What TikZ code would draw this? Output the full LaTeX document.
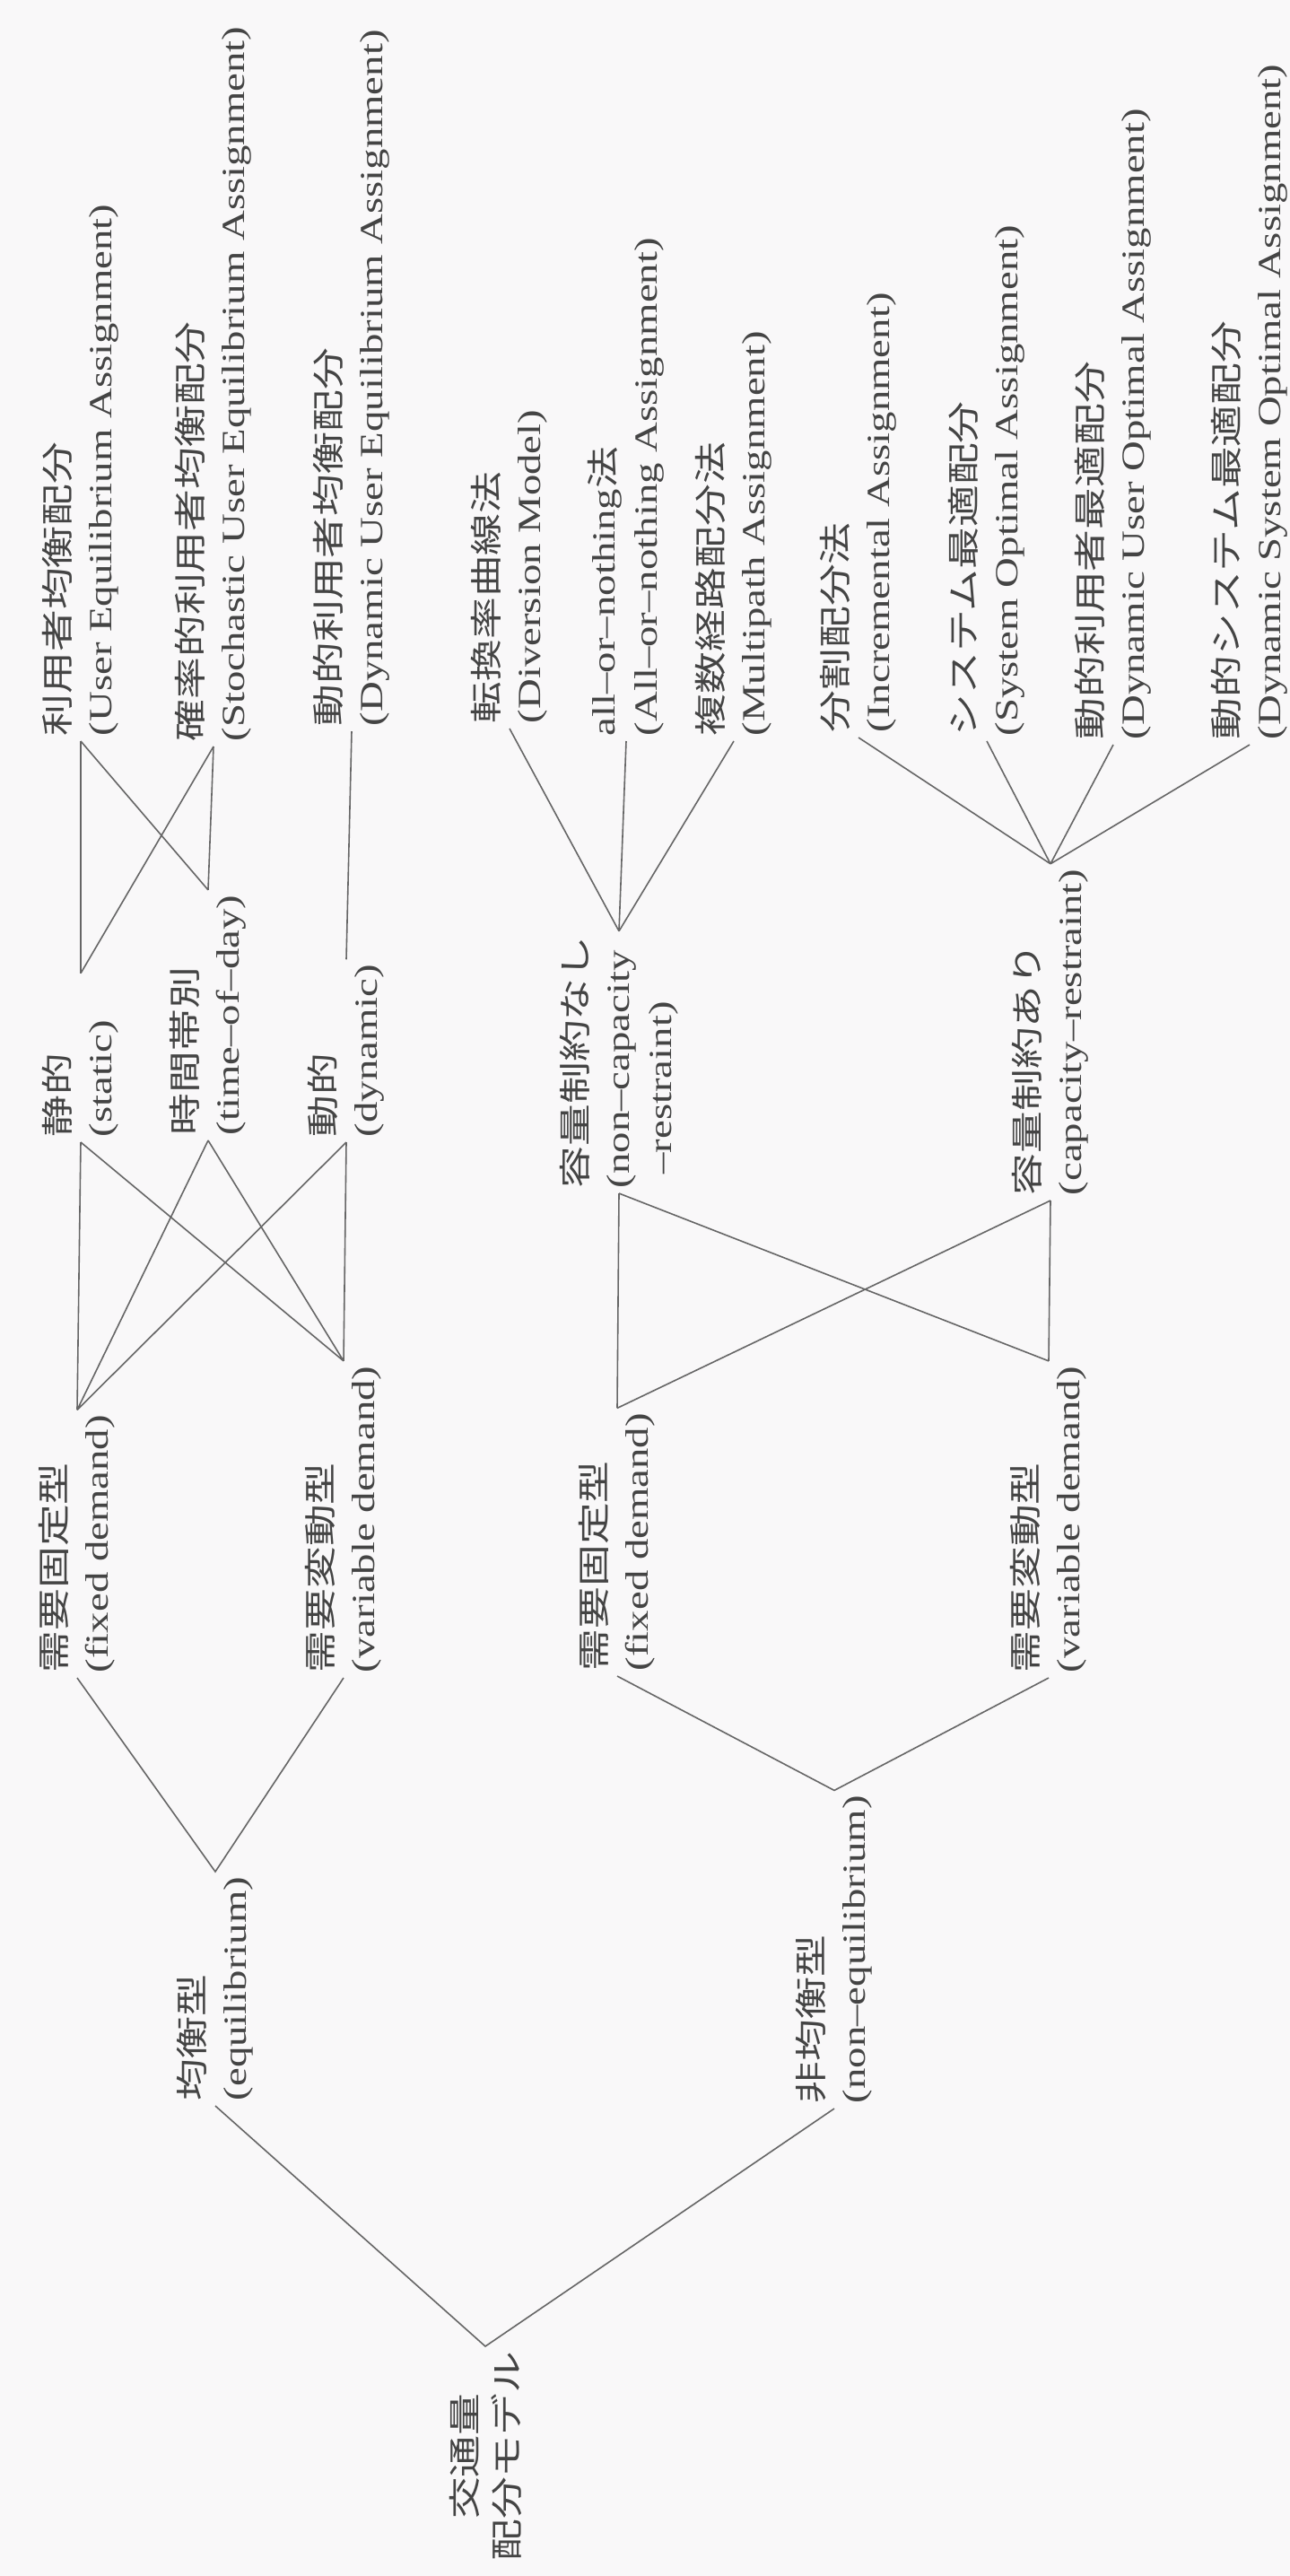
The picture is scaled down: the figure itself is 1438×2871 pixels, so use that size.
\documentclass[tikz,border=0pt]{standalone}
\usepackage{fontspec}
\setmainfont{Liberation Serif}
\newfontfamily\jpfont{Noto Sans CJK JP}
\newcommand{\jp}[1]{{\jpfont #1}}
\definecolor{paper}{RGB}{249,248,249}
\definecolor{ink}{RGB}{68,68,68}

\begin{document}
\begin{tikzpicture}[
  x=0.5pt, y=-0.5pt,
  lbl/.style={rotate=90, xscale=1.3, anchor=west, align=left, inner sep=2pt, text=ink, font=\fontsize{18}{23.5}\selectfont},
  link/.style={draw=black!60, line width=0.8pt}
]
\fill[paper] (0,0) rectangle (1438,2871);
\useasboundingbox (0,0) rectangle (1438,2871);
% root and first split
\node[lbl, anchor=east, align=center] (root) at (541,2615) {\jp{交通量}\\\jp{配分モデル}};
\node[lbl] (equil) at (240,2347) {\jp{均衡型}\\(equilibrium)};
\node[lbl] (nonequil) at (930,2350) {\jp{非均衡型}\\(non--equilibrium)};
% demand
\node[lbl] (fixA) at (86,1870) {\jp{需要固定型}\\(fixed demand)};
\node[lbl] (varA) at (383,1870) {\jp{需要変動型}\\(variable demand)};
\node[lbl] (fixB) at (688,1868) {\jp{需要固定型}\\(fixed demand)};
\node[lbl] (varB) at (1169,1870) {\jp{需要変動型}\\(variable demand)};
% time / capacity
\node[lbl, text width=68pt] (static) at (90,1273) {\jp{静的}\\(static)};
\node[lbl] (tod) at (232,1271) {\jp{時間帯別}\\(time--of--day)};
\node[lbl] (dyn) at (386,1273) {\jp{動的}\\(dynamic)};
\node[lbl] (noncap) at (690,1330) {\jp{容量制約なし}\\(non--capacity\\\phantom{(}--restraint)};
\node[lbl] (cap) at (1171,1338) {\jp{容量制約あり}\\(capacity--restraint)};
% assignment methods
\node[lbl] (ue) at (90,826) {\jp{利用者均衡配分}\\(User Equilibrium Assignment)};
\node[lbl] (sue) at (238,832) {\jp{確率的利用者均衡配分}\\(Stochastic User Equilibrium Assignment)};
\node[lbl] (due) at (392,815) {\jp{動的利用者均衡配分}\\(Dynamic User Equilibrium Assignment)};
\node[lbl] (div) at (568,812) {\jp{転換率曲線法}\\(Diversion Model)};
\node[lbl] (aon) at (698,826) {all--or--nothing\jp{法}\\(All--or--nothing Assignment)};
\node[lbl] (multi) at (818,826) {\jp{複数経路配分法}\\(Multipath Assignment)};
\node[lbl] (incr) at (957,822) {\jp{分割配分法}\\(Incremental Assignment)};
\node[lbl] (so) at (1100,826) {\jp{システム最適配分}\\(System Optimal Assignment)};
\node[lbl] (duo) at (1241,830) {\jp{動的利用者最適配分}\\(Dynamic User Optimal Assignment)};
\node[lbl] (dso) at (1393,830) {\jp{動的システム最適配分}\\(Dynamic System Optimal Assignment)};
% connectors
\draw[link] (equil.west) -- (root.east) -- (nonequil.west);
\draw[link] (fixA.west) -- (equil.east) -- (varA.west);
\draw[link] (fixB.west) -- (nonequil.east) -- (varB.west);
\draw[link] (fixA.east) -- (static.west) (fixA.east) -- (tod.west) (fixA.east) -- (dyn.west);
\draw[link] (varA.east) -- (static.west) (varA.east) -- (tod.west) (varA.east) -- (dyn.west);
\draw[link] (fixB.east) -- (noncap.west) (fixB.east) -- (cap.west);
\draw[link] (varB.east) -- (noncap.west) (varB.east) -- (cap.west);
\draw[link] (static.east) -- (ue.west) (static.east) -- (sue.west);
\draw[link] (tod.east) -- (ue.west) (tod.east) -- (sue.west);
\draw[link] (dyn.east) -- (due.west);
\draw[link] (noncap.east) -- (div.west) (noncap.east) -- (aon.west) (noncap.east) -- (multi.west);
\draw[link] (cap.east) -- (incr.west) (cap.east) -- (so.west) (cap.east) -- (duo.west) (cap.east) -- (dso.west);
\end{tikzpicture}
\end{document}
